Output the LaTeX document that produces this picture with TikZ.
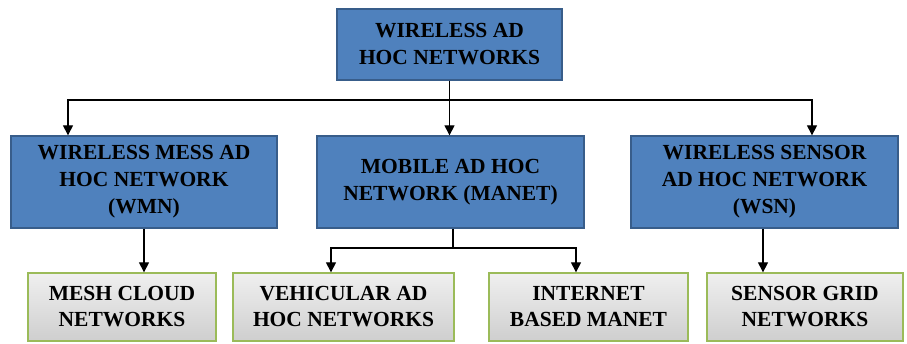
\documentclass[tikz,border=0pt]{standalone}
\usepackage{fontspec}
\setmainfont{Liberation Serif}
\usetikzlibrary{arrows.meta}
\definecolor{boxblue}{HTML}{4F81BD}
\definecolor{blueedge}{HTML}{385D8A}
\definecolor{greenedge}{HTML}{9BBB59}
\tikzset{
    netbox/.style={draw=blueedge, line width=1.3pt, fill=boxblue, align=center,
        inner sep=0pt, font=\fontsize{21.5}{27}\selectfont\bfseries},
    subbox/.style={draw=greenedge, line width=1.3pt, top color=gray!12, bottom color=gray!38,
        align=center, inner sep=0pt, font=\fontsize{21.5}{26}\selectfont\bfseries},
    link/.style={line width=1.1pt, -{Triangle[width=10pt,length=10pt]}}
}
\begin{document}
\begin{tikzpicture}[x=1pt,y=-1pt]
    \useasboundingbox (0,0) rectangle (907,343);
    \node [netbox, minimum width=225, minimum height=71] (adhoc) at (449.5,44.5)
        {WIRELESS AD\\HOC NETWORKS};

    \node [netbox, minimum width=266, minimum height=92] (wmn) at (144,182)
        {WIRELESS MESS AD\\HOC NETWORK\\(WMN)};
    \node [netbox, minimum width=267, minimum height=92] (manet) at (450.5,182)
        {MOBILE AD HOC\\NETWORK (MANET)};
    \node [netbox, minimum width=267, minimum height=92] (wsn) at (764.5,182)
        {WIRELESS SENSOR\\AD HOC NETWORK\\(WSN)};

    \foreach \name/\x/\w/\txt in {mesh/122/188/{MESH CLOUD\\NETWORKS},
            vanet/343.5/221/{VEHICULAR AD\\HOC NETWORKS},
            inet/588.5/199/{INTERNET\\BASED MANET},
            grid/805/196/{SENSOR GRID\\NETWORKS}}
        {\node [subbox, minimum width=\w, minimum height=68] (\name) at (\x,307) {\txt};}

    % first level
    \coordinate (bus) at (adhoc.south |- 0,100);
    \draw [line width=1.1pt] (adhoc.south) -- (bus);
    \draw [link] (bus) -| ([xshift=-76]wmn.north);
    \draw [link] (bus) -- (bus |- manet.north);
    \draw [link] (bus) -| ([xshift=47.5]wsn.north);

    % second level
    \draw [link] (wmn.south) -- (wmn.south |- mesh.north);
    \coordinate (split) at ([xshift=2.5]manet.south |- 0,248);
    \draw [line width=1.1pt] ([xshift=2.5]manet.south) -- (split);
    \draw [link] (split) -| ([xshift=-12.5]vanet.north);
    \draw [link] (split) -| ([xshift=-12.5]inet.north);
    \draw [link] ([xshift=-1.5]wsn.south) -- ([xshift=-1.5]wsn.south |- grid.north);
\end{tikzpicture}
\end{document}
